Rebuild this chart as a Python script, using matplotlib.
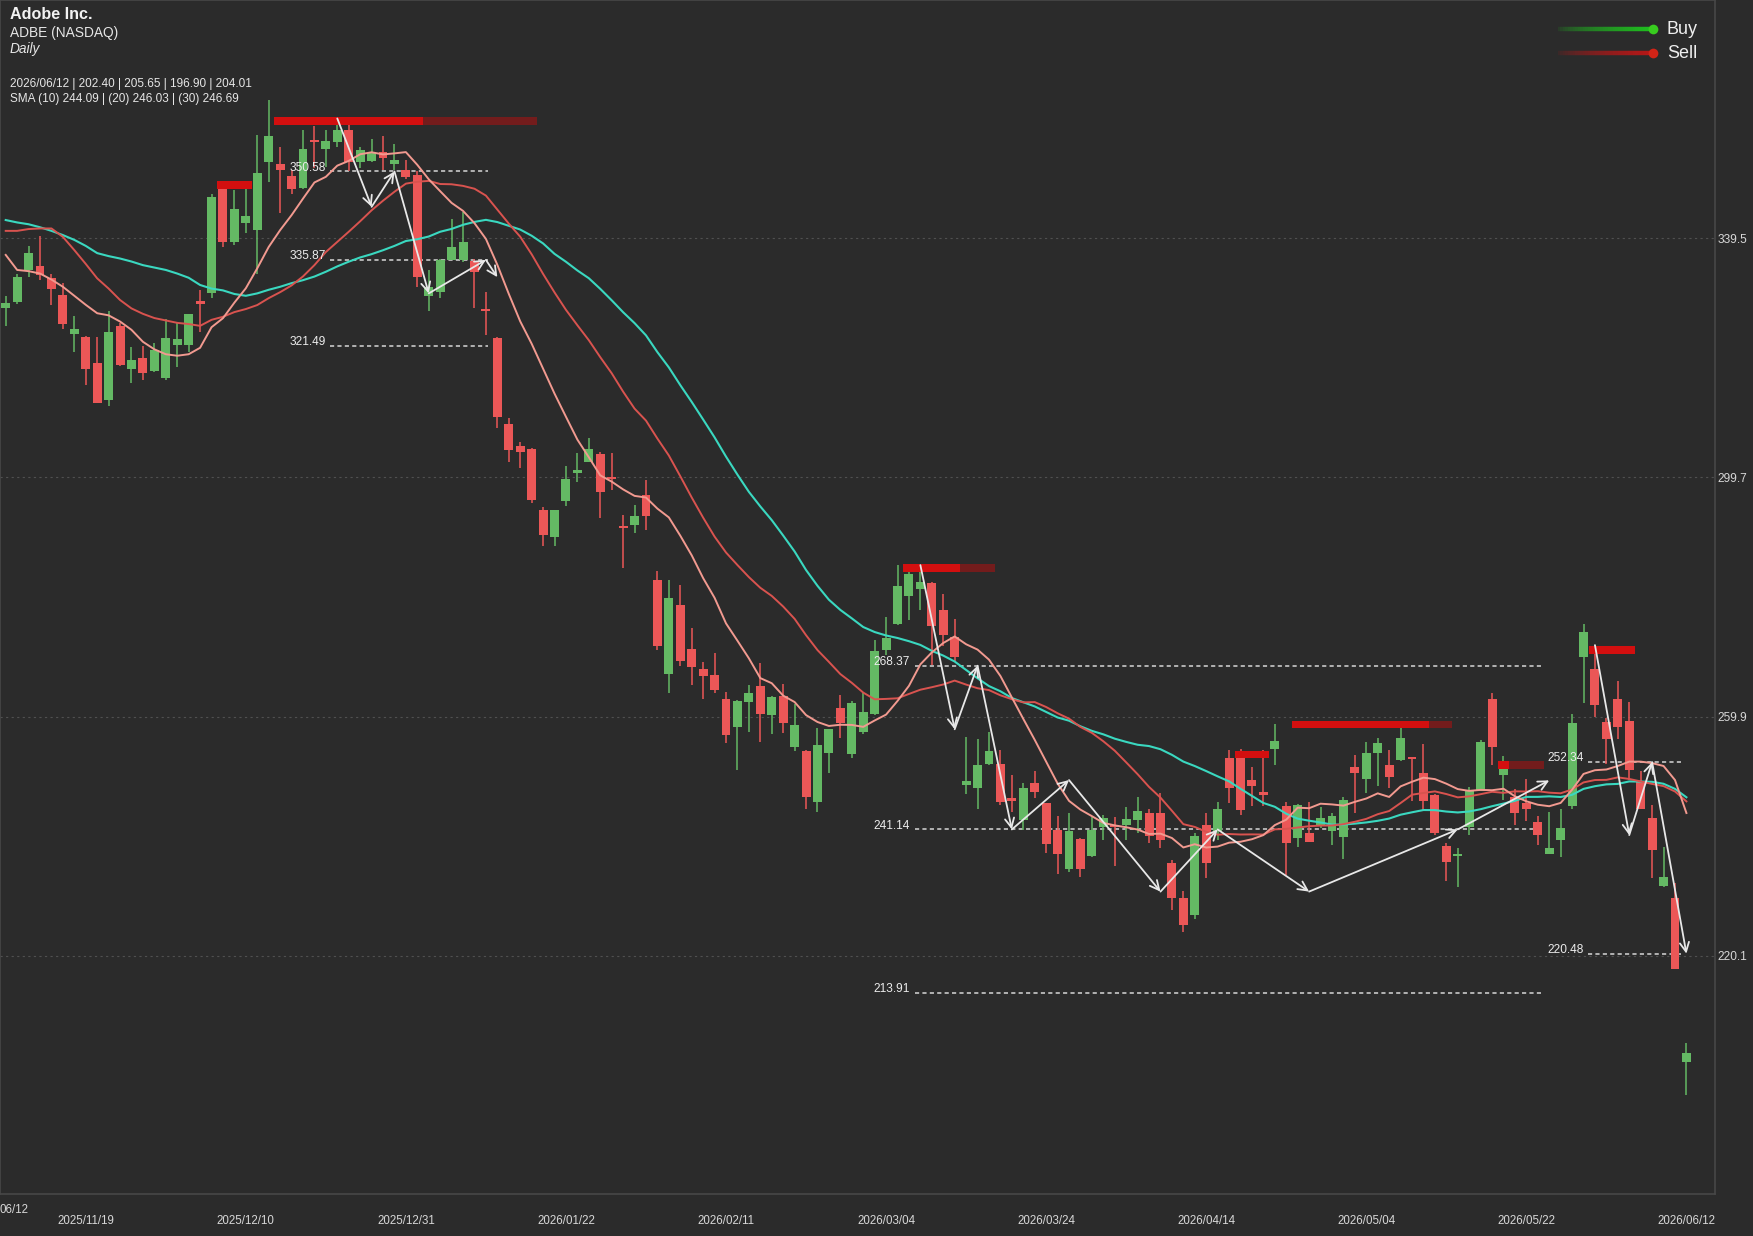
import numpy as np
import pandas as pd
import matplotlib
matplotlib.use("Agg")
import matplotlib.pyplot as plt
from matplotlib.collections import LineCollection

plt.rcParams['font.family'] = ['Liberation Sans', 'DejaVu Sans']

# daily candles, oldest first (last one = 2026/06/12)
opens = [327.8, 328.9, 334.2, 334.9, 332.8, 330.1, 323.5, 323.0, 318.8, 312.6,
         324.9, 317.7, 319.5, 317.4, 316.3, 321.7, 321.7, 329.1, 330.4, 348.0,
         338.9, 342.0, 340.9, 352.1, 351.8, 349.8, 347.8, 355.8, 354.3, 355.5,
         357.4, 352.1, 352.3, 353.9, 351.8, 350.8, 350.0, 329.8, 330.6, 335.9,
         335.9, 335.7, 327.7, 322.8, 308.6, 304.9, 304.5, 294.3, 289.7, 295.7,
         300.4, 302.3, 303.6, 299.6, 291.6, 291.8, 296.7, 282.6, 267.0, 278.5,
         271.1, 267.9, 266.9, 262.9, 258.1, 262.4, 265.0, 260.2, 263.3, 254.8,
         254.2, 245.7, 253.8, 261.4, 253.7, 257.4, 260.3, 271.0, 275.3, 280.0,
         281.2, 282.2, 277.7, 273.2, 248.6, 248.1, 252.1, 252.1, 246.3, 242.7,
         248.9, 245.5, 241.0, 234.6, 239.6, 236.7, 241.6, 241.9, 241.9, 242.7,
         243.8, 243.8, 235.5, 229.8, 226.9, 241.9, 240.9, 253.0, 253.8, 249.4,
         247.4, 254.6, 245.0, 239.7, 240.6, 241.9, 240.8, 239.9, 251.5, 249.5,
         253.8, 251.8, 252.7, 253.1, 250.5, 246.9, 238.4, 236.7, 241.6, 247.6,
         262.9, 250.2, 246.6, 245.6, 242.4, 237.1, 239.4, 245.0, 269.8, 267.9,
         259.0, 262.9, 259.2, 249.2, 243.0, 231.7, 229.8, 202.40]
highs = [329.8, 333.6, 338.2, 339.9, 333.5, 332.1, 326.5, 323.2, 323.0, 327.4,
         325.4, 321.4, 321.5, 322.1, 326.0, 325.4, 326.9, 330.8, 346.8, 348.5,
         347.5, 348.3, 356.7, 362.5, 354.7, 350.8, 357.5, 358.2, 357.4, 358.6,
         359.4, 354.6, 355.9, 356.4, 355.2, 352.5, 350.6, 334.2, 336.0, 342.6,
         343.9, 336.0, 330.6, 323.0, 309.5, 305.6, 304.6, 294.8, 294.3, 301.6,
         303.7, 306.2, 304.0, 303.7, 293.4, 295.1, 299.3, 284.2, 282.7, 281.8,
         274.7, 269.0, 270.5, 264.0, 262.6, 265.2, 268.9, 263.3, 265.4, 262.0,
         254.3, 258.0, 257.9, 263.5, 262.5, 263.8, 272.6, 276.5, 285.1, 285.1,
         284.5, 282.3, 280.3, 276.1, 256.5, 256.1, 257.4, 254.3, 250.2, 248.9,
         250.9, 245.6, 243.4, 243.8, 239.7, 243.2, 243.5, 243.2, 244.8, 246.5,
         244.6, 247.2, 236.1, 230.9, 240.5, 243.8, 245.7, 254.3, 254.6, 251.6,
         254.3, 258.7, 245.7, 245.4, 245.7, 244.9, 243.8, 246.5, 253.5, 255.7,
         256.4, 254.3, 259.2, 253.2, 255.3, 247.1, 238.8, 238.0, 248.2, 256.0,
         263.9, 253.4, 247.8, 249.6, 243.4, 244.1, 244.6, 260.4, 275.3, 271.8,
         259.6, 265.9, 262.4, 250.8, 245.2, 238.3, 232.3, 205.65]
lows = [324.9, 328.5, 333.1, 332.6, 328.4, 324.3, 320.6, 315.0, 312.0, 311.5,
        318.2, 315.4, 315.9, 317.3, 315.9, 318.0, 320.5, 323.9, 329.6, 338.0,
        338.4, 340.3, 333.6, 348.9, 343.7, 346.8, 347.6, 351.1, 351.4, 354.7,
        350.7, 351.1, 352.2, 350.9, 350.8, 349.4, 331.4, 327.3, 329.5, 335.8,
        335.6, 327.8, 323.4, 307.9, 302.3, 301.2, 295.4, 288.3, 288.2, 294.9,
        299.0, 302.2, 292.9, 297.6, 284.6, 290.4, 290.9, 271.0, 263.9, 268.3,
        265.2, 262.8, 263.9, 255.5, 251.0, 257.4, 255.7, 257.0, 257.2, 254.2,
        244.6, 244.1, 250.6, 256.4, 253.0, 257.0, 260.2, 270.1, 275.2, 275.9,
        277.7, 268.5, 271.6, 269.0, 247.1, 244.5, 251.9, 245.2, 244.1, 241.0,
        246.3, 237.3, 233.7, 234.1, 233.2, 236.6, 239.4, 235.0, 239.4, 240.6,
        238.8, 238.0, 227.7, 224.1, 226.3, 233.0, 239.4, 245.6, 243.5, 245.0,
        245.0, 251.8, 233.6, 238.3, 239.0, 241.3, 238.5, 236.2, 243.9, 247.2,
        248.4, 248.1, 252.6, 245.9, 244.4, 240.2, 232.6, 231.6, 240.2, 247.5,
        251.8, 246.0, 241.9, 242.6, 238.5, 237.0, 236.5, 244.5, 262.2, 259.9,
        252.1, 256.1, 249.4, 244.5, 233.1, 231.6, 217.9, 196.90]
closes = [328.7, 333.1, 337.0, 333.4, 331.0, 325.2, 324.3, 317.8, 312.1, 323.9,
          318.4, 319.3, 317.1, 320.9, 322.8, 322.7, 326.8, 328.5, 346.3, 338.9,
          344.3, 343.2, 350.3, 356.4, 350.8, 347.6, 354.3, 355.4, 355.7, 357.5,
          352.2, 354.2, 353.6, 352.9, 352.5, 349.7, 333.1, 331.4, 335.9, 338.0,
          338.9, 333.8, 327.4, 309.8, 304.2, 304.0, 295.9, 290.1, 294.2, 299.5,
          300.9, 304.5, 297.2, 299.4, 291.3, 293.2, 293.2, 271.6, 279.6, 269.1,
          268.2, 266.6, 264.4, 256.9, 262.5, 263.9, 260.3, 263.1, 258.9, 258.5,
          246.5, 255.1, 257.8, 258.9, 262.2, 260.7, 270.9, 272.9, 281.6, 283.6,
          282.3, 274.9, 273.5, 269.8, 249.2, 251.8, 254.2, 245.7, 245.9, 248.0,
          247.4, 238.7, 237.1, 240.9, 234.6, 241.0, 243.0, 241.5, 242.8, 244.2,
          240.0, 239.3, 229.8, 225.2, 240.0, 235.5, 244.6, 248.0, 244.3, 248.4,
          246.9, 255.9, 238.8, 245.2, 239.1, 243.0, 243.4, 246.0, 250.6, 253.9,
          255.5, 249.9, 256.4, 252.9, 245.9, 240.6, 235.8, 237.0, 247.6, 255.6,
          254.9, 252.4, 243.8, 244.6, 240.2, 238.1, 241.3, 258.9, 273.9, 261.8,
          256.1, 258.2, 251.1, 244.6, 237.7, 233.3, 218.0, 204.01]

# moving averages before their window fills (history is off-screen)
sma10_head = [336.7, 334.2, 334.0, 333.6, 332.6, 331.4, 329.9, 328.4, 327.0]
sma20_head = [340.7, 340.7, 341.0, 341.1, 341.1, 339.7, 337.5, 335.2, 332.8, 331.1,
              329.2, 327.8, 326.9, 326.2, 325.8, 325.4, 325.2, 324.9, 325.9]
sma30_head = [342.5, 342.1, 341.8, 341.3, 340.7, 340.0, 339.2, 338.2, 337.0, 336.5,
              336.1, 335.6, 335.0, 334.6, 334.2, 333.6, 332.9, 331.7, 331.1, 330.8,
              330.2, 329.9, 330.3, 330.9, 331.4, 332.0, 332.5, 333.1, 333.9]

date_tick_idx = [7, 21, 35, 49, 63, 77, 91, 105, 119, 133, 147]
date_tick_labels = ['2025/11/19', '2025/12/10', '2025/12/31', '2026/01/22',
                    '2026/02/11', '2026/03/04', '2026/03/24', '2026/04/14',
                    '2026/05/04', '2026/05/22', '2026/06/12']
price_ticks = [220.1, 259.9, 299.7, 339.5]

# horizontal levels: price, from bar, to bar
level_prices = [350.58, 335.87, 321.49, 268.37, 241.14, 213.91, 252.34, 220.48]
level_from = [28.4, 28.4, 28.4, 79.5, 79.5, 79.5, 138.4, 138.4]
level_to = [42.2, 42.2, 42.2, 134.5, 134.5, 134.5, 146.5, 146.5]

# sell signal bars: price, first bar, strong length, faded length
sig_price = [348.3, 359.0, 284.6, 253.6, 258.6, 251.9, 271.0]
sig_first = [19, 24, 79, 108, 113, 131, 139]
sig_strong = [3, 13, 5, 3, 12, 1, 4]
sig_faded = [0, 10, 3, 0, 2, 3, 0]

# zigzag swings
zz_bars = [[29, 32, 34, 37, 42, 43],
           [80, 83, 85, 88, 93, 101, 106, 114, 127, 135],
           [139, 142, 144, 147]]
zz_prices = [[359.4, 344.7, 350.58, 330.3, 335.87, 333.0],
             [285.1, 257.8, 268.37, 241.14, 249.35, 230.8, 241.14, 230.8, 241.14, 249.3],
             [271.8, 240.2, 252.34, 220.48]]

BG = '#2b2b2b'
UP = '#64b964'
DOWN = '#eb5757'

W, H = 1753, 1236
fig = plt.figure(figsize=(W / 100, H / 100), dpi=100, facecolor=BG)
ax = fig.add_axes([0, 42 / H, 1715 / W, 1194 / H], facecolor=BG)

o = np.array(opens)
h = np.array(highs)
l = np.array(lows)
c = np.array(closes)
x = np.arange(len(c))
col = np.where(c >= o, UP, DOWN)

# grid
for p in price_ticks:
    ax.axhline(p, color='#505050', lw=0.8, ls=(0, (2, 3)), zorder=0)

# levels
for p, a, b in zip(level_prices, level_from, level_to):
    ax.plot([a, b], [p, p], color='#bdbdbd', lw=1.3, ls=(0, (2.3, 1.8)), zorder=2)
    ax.text(a - 0.4, p + 0.15, f'{p:.2f}', color='#ececec', fontsize=8.6,
            ha='right', va='baseline', zorder=8)

# candles
ax.vlines(x, l, h, colors=col, lw=1.1, zorder=3)
body_lo = np.minimum(o, c)
body_h = np.maximum(np.abs(c - o), 0.35)
ax.bar(x, body_h, bottom=body_lo, width=0.78, color=col, linewidth=0, zorder=3)

# moving averages
s = pd.Series(closes)
sma10 = s.rolling(10).mean().to_numpy()
sma20 = s.rolling(20).mean().to_numpy()
sma30 = s.rolling(30).mean().to_numpy()
sma10[:len(sma10_head)] = sma10_head
sma20[:len(sma20_head)] = sma20_head
sma30[:len(sma30_head)] = sma30_head
ax.plot(x, sma30, color='#3ad8c0', lw=1.5, zorder=4)
ax.plot(x, sma20, color='#d9534f', lw=1.4, zorder=4)
ax.plot(x, sma10, color='#f29a90', lw=1.4, zorder=4)

# sell signals
for p, f, n1, n2 in zip(sig_price, sig_first, sig_strong, sig_faded):
    ax.barh(p, n1, left=f - 0.5, height=1.3, color='#d30f0f', linewidth=0, zorder=5)
    if n2:
        ax.barh(p, n2, left=f - 0.5 + n1, height=1.3, color='#731c1c', linewidth=0, zorder=5)

# zigzag arrows
for bars, prices in zip(zz_bars, zz_prices):
    for i in range(len(bars) - 1):
        ax.annotate('', xy=(bars[i + 1], prices[i + 1]), xytext=(bars[i], prices[i]),
                    arrowprops=dict(arrowstyle='->,head_length=0.6,head_width=0.3',
                                    color='#e8e8e8', lw=1.3, shrinkA=0, shrinkB=0,
                                    mutation_scale=11),
                    zorder=6)

ax.set_xlim(-0.5, 149.5)
ax.set_ylim(180.5, 379.1)
ax.set_xticks(date_tick_idx)
ax.set_xticklabels(date_tick_labels)
ax.yaxis.tick_right()
ax.set_yticks(price_ticks)
ax.set_yticklabels([f'{p:.1f}' for p in price_ticks])
ax.tick_params(axis='x', length=0, pad=15, colors='#d8d8d8', labelsize=8.3)
ax.tick_params(axis='y', length=0, pad=2, colors='#d8d8d8', labelsize=8.6)
for sp in ax.spines.values():
    sp.set_color('#474747')
    sp.set_linewidth(1.2)

# overlay in pixel units for header and legend
ov = fig.add_axes([0, 0, 1, 1], facecolor='none')
ov.set_xlim(0, W)
ov.set_ylim(H, 0)
ov.axis('off')

ov.text(10, 19, 'Adobe Inc.', color='#f2f2f2', fontsize=11.6, fontweight='bold', va='baseline')
ov.text(10, 37.3, 'ADBE (NASDAQ)', color='#e6e6e6', fontsize=9.9, va='baseline')
ov.text(10, 53.3, 'Daily', color='#e6e6e6', fontsize=9.9, style='italic', va='baseline')
ov.text(10, 87.3, '2026/06/12 | 202.40 | 205.65 | 196.90 | 204.01', color='#e6e6e6',
        fontsize=8.5, va='baseline')
ov.text(10, 101.7, 'SMA (10) 244.09 | (20) 246.03 | (30) 246.69', color='#e6e6e6',
        fontsize=8.5, va='baseline')
ov.text(0, 1210, '06/12', color='#d8d8d8', fontsize=8.3, ha='left', va='center')

for label, yy, rgb in [('Buy', 29.3, (0.12, 0.75, 0.12)), ('Sell', 53.3, (0.72, 0.09, 0.09))]:
    xs = np.linspace(1555, 1653, 40)
    segs = [[(xs[k], yy), (xs[k + 1], yy)] for k in range(len(xs) - 1)]
    alphas = np.linspace(0.0, 1.0, len(segs)) ** 0.6
    cols = [(rgb[0], rgb[1], rgb[2], a) for a in alphas]
    ov.add_collection(LineCollection(segs, colors=cols, linewidths=3.2))
    ov.plot([1653], [yy], 'o', ms=7, color=(min(rgb[0] + 0.1, 1), min(rgb[1] + 0.05, 1), rgb[2]),
            mec='none')
    ov.text(1667, yy, label, color='#eeeeee', fontsize=13, va='center')

fig.savefig('out.png', dpi=100, facecolor=BG)
